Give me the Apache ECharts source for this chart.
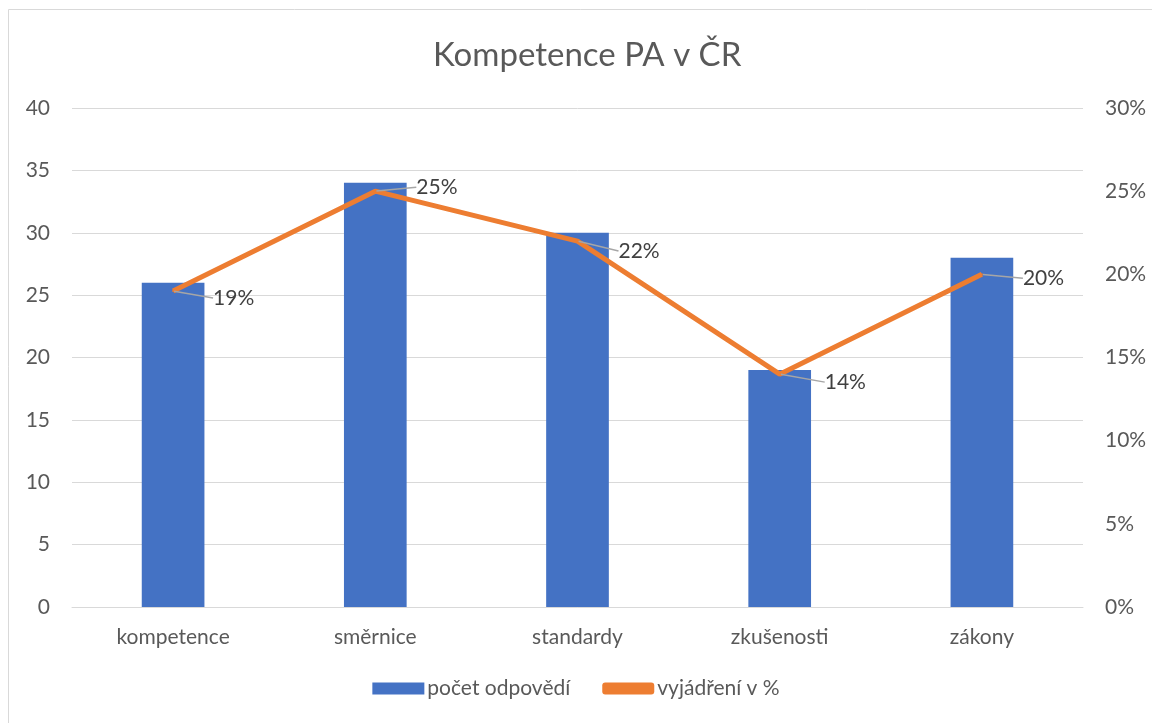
<!DOCTYPE html>
<html><head><meta charset="utf-8">
<script src="https://cdn.jsdelivr.net/npm/echarts@6/dist/echarts.min.js"></script>
<style>html,body{margin:0;padding:0;background:#fff}#c{width:1152px;height:723px}</style>
</head><body><div id="c"></div>
<script>
const categories = ['kompetence','směrnice','standardy','zkušenosti','zákony'];
const counts = [26, 34, 30, 19, 28];
const percents = [19, 25, 22, 14, 20];
const leftTicks = [0, 5, 10, 15, 20, 25, 30, 35, 40];
const rightTicks = ['0%','5%','10%','15%','20%','25%','30%'];
const labelOffsets = [[37, 7], [38, -4], [38, 10], [42, 8], [38, 4]];

const font = 'Lato, "Open Sans", sans-serif';
const txt = '#595959';
const chart = echarts.init(document.getElementById('c'));
chart.setOption({
  animation: false,
  textStyle: {fontFamily: font},
  graphic: [{type: 'rect', shape: {x: 8.5, y: 9.5, width: 1200, height: 800},
    style: {fill: 'none', stroke: '#d9d9d9', lineWidth: 1}, z: -1}],
  title: {text: 'Kompetence PA v ČR', left: 428, top: 34,
    textStyle: {fontFamily: font, fontSize: 33, fontWeight: 'normal', color: txt}},
  legend: {bottom: 19, left: 'center', itemWidth: 52, itemHeight: 12, itemGap: 32,
    textStyle: {fontFamily: font, fontSize: 21, color: txt, padding: [0,0,0,-2]},
    data: [{name: 'počet odpovědí', icon: 'rect'},
           {name: 'vyjádření v %', icon: 'roundRect', itemStyle: {color: '#ED7D31'}}]},
  grid: {left: 72, right: 69, top: 108, bottom: 116},
  xAxis: {type: 'category', data: categories,
    axisLine: {lineStyle: {color: '#d9d9d9'}}, axisTick: {show: false},
    axisLabel: {color: txt, fontSize: 21, margin: 20, fontFamily: font}},
  yAxis: [
    {type: 'value', min: 0, max: 40, interval: 5,
      axisLabel: {color: txt, fontSize: 21, margin: 22, fontFamily: font,
        formatter: v => String(leftTicks[Math.round(v/5)])},
      splitLine: {lineStyle: {color: '#d9d9d9', width: 1}}},
    {type: 'value', min: 0, max: 30, interval: 5,
      axisLabel: {color: txt, fontSize: 21, margin: 22, fontFamily: font,
        formatter: v => rightTicks[Math.round(v/5)]},
      splitLine: {show: false}}
  ],
  series: [
    {name: 'počet odpovědí', type: 'bar', data: counts, barWidth: '31%',
      itemStyle: {color: '#4472C4'}},
    {name: 'vyjádření v %', type: 'line', yAxisIndex: 1, data: percents,
      lineStyle: {color: '#ED7D31', width: 5}, itemStyle: {color: '#ED7D31'},
      symbol: 'circle', symbolSize: 2, z: 5,
      label: {show: true, position: 'right', distance: 2, formatter: p => p.value + '%',
        fontSize: 21, color: '#404040', fontFamily: font},
      labelLine: {show: true, lineStyle: {color: '#a6a6a6', width: 1.5}},
      labelLayout: p => ({dx: labelOffsets[p.dataIndex][0], dy: labelOffsets[p.dataIndex][1]})}
  ]
});
</script></body></html>
